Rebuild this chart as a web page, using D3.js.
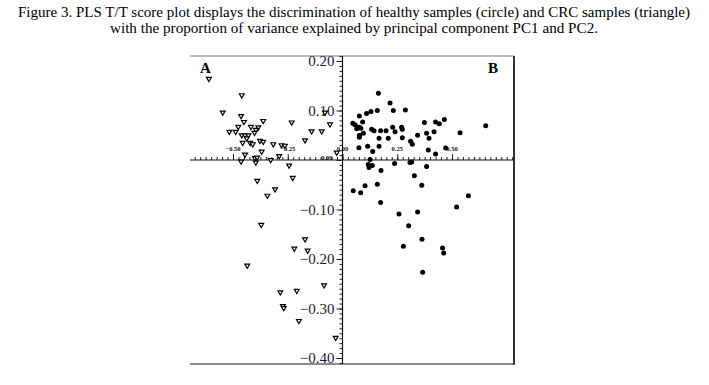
<!DOCTYPE html>
<html>
<head>
<meta charset="utf-8">
<script src="https://cdn.jsdelivr.net/npm/d3@7"></script>
<style>
  body { margin: 0; background: #fff; }
  svg { display: block; }
  .title { font-family: "Liberation Serif", "Times New Roman", serif; font-size: 15px; fill: #000; }
  .ylab { font-family: "Liberation Serif", serif; font-size: 15px; fill: #1c1c30; }
  .xlab { font-family: "Liberation Serif", serif; font-size: 6.5px; font-weight: bold; fill: #111; }
  .panel { font-family: "Liberation Serif", serif; font-size: 15px; font-weight: bold; fill: #000; }
</style>
</head>
<body>
<div id="chart"></div>
<script>
// Title lines
const titleLines = [
  "Figure 3. PLS T/T score plot displays the discrimination of healthy samples (circle) and CRC samples (triangle)",
  "with the proportion of variance explained by principal component PC1 and PC2."
];

// Tick labels
const xTickValues = [-0.5, -0.25, 0, 0.25, 0.5];
const yTickValues = [0.2, 0.1, -0.1, -0.2, -0.3, -0.4];

// CRC samples (triangles): [t1, t2]
const crcScores = [
  [-0.61, 0.164], [-0.46, 0.131], [-0.547, 0.096], [-0.463, 0.089], [-0.45, 0.077],
  [-0.362, 0.079], [-0.232, 0.076], [-0.057, 0.072], [-0.08, 0.096], [-0.476, 0.067],
  [-0.418, 0.067], [-0.384, 0.066], [-0.395, 0.061], [-0.517, 0.057], [-0.488, 0.057],
  [-0.402, 0.055], [-0.141, 0.058], [-0.095, 0.058], [-0.46, 0.05], [-0.445, 0.05],
  [-0.43, 0.05], [-0.437, 0.044], [-0.456, 0.035], [-0.422, 0.035], [-0.41, 0.032],
  [-0.377, 0.039], [-0.362, 0.037], [-0.316, 0.032], [-0.278, 0.03], [-0.263, 0.029],
  [-0.171, 0.04], [-0.369, 0.017], [-0.445, 0.011], [-0.4, 0.004], [-0.39, 0.005],
  [-0.289, 0.008], [-0.328, 0.0], [-0.026, 0.015], [-0.463, -0.003], [-0.396, -0.005],
  [-0.244, -0.011], [-0.389, -0.042], [-0.227, -0.036], [-0.308, -0.059], [-0.343, -0.072],
  [-0.371, -0.131], [-0.171, -0.16], [-0.22, -0.179], [-0.159, -0.183], [-0.435, -0.213],
  [-0.084, -0.253], [-0.284, -0.267], [-0.209, -0.264], [-0.272, -0.295], [-0.268, -0.299],
  [-0.199, -0.325], [-0.031, -0.359]
];

// Healthy samples (circles): [t1, t2]
const healthyScores = [
  [0.164, 0.135], [0.217, 0.115], [0.232, 0.1], [0.287, 0.101], [0.159, 0.1],
  [0.13, 0.098], [0.11, 0.094], [0.077, 0.089], [0.092, 0.077], [0.047, 0.074],
  [0.057, 0.071], [0.07, 0.066], [0.077, 0.066], [0.065, 0.063], [0.084, 0.064],
  [0.095, 0.054], [0.077, 0.05], [0.077, 0.046], [0.133, 0.062], [0.144, 0.059],
  [0.174, 0.059], [0.199, 0.059], [0.229, 0.066], [0.24, 0.057], [0.27, 0.066],
  [0.273, 0.062], [0.374, 0.076], [0.425, 0.077], [0.442, 0.073], [0.465, 0.082],
  [0.343, 0.05], [0.384, 0.054], [0.418, 0.057], [0.395, 0.044], [0.537, 0.055],
  [0.654, 0.069], [0.167, 0.044], [0.209, 0.044], [0.273, 0.045], [0.311, 0.038],
  [0.319, 0.032], [0.115, 0.028], [0.167, 0.028], [0.075, 0.025], [0.138, 0.017],
  [0.392, 0.02], [0.425, 0.012], [0.471, 0.024], [0.126, 0.001], [0.118, -0.009],
  [0.136, -0.011], [0.121, -0.015], [0.238, -0.007], [0.308, -0.005], [0.316, -0.004],
  [0.384, -0.013], [0.176, -0.021], [0.328, -0.032], [0.159, -0.049], [0.103, -0.052],
  [0.362, -0.051], [0.049, -0.062], [0.083, -0.066], [0.575, -0.072], [0.174, -0.086],
  [0.521, -0.095], [0.258, -0.109], [0.343, -0.105], [0.302, -0.133], [0.363, -0.16],
  [0.278, -0.174], [0.457, -0.178], [0.462, -0.188], [0.366, -0.227]
];

const width = 709, height = 385;
const box = { left: 190, right: 514, top: 56, bottom: 364 };

const svg = d3.select("#chart").append("svg")
  .attr("width", width).attr("height", height);

// Title
svg.selectAll("text.title")
  .data(titleLines)
  .join("text")
  .attr("class", "title")
  .attr("x", 354)
  .attr("y", (d, i) => 17 + i * 15.5)
  .attr("text-anchor", "middle")
  .attr("textLength", (d, i) => i === 0 ? 672 : 488)
  .attr("lengthAdjust", "spacingAndGlyphs")
  .text(d => d);

// Scales (calibrated from the tick labels)
const x = d3.scaleLinear().domain([-0.5, 0.5]).range([233, 452]);
const y = d3.scaleLinear().domain([0.2, -0.4]).range([61, 358]);

// Frame: top thin grey, bottom grey, right dark
svg.append("line")
  .attr("x1", box.left).attr("x2", box.right)
  .attr("y1", box.top).attr("y2", box.top)
  .attr("stroke", "#777").attr("stroke-width", 1);
svg.append("line")
  .attr("x1", box.left).attr("x2", box.right)
  .attr("y1", box.bottom).attr("y2", box.bottom)
  .attr("stroke", "#666").attr("stroke-width", 1.5);
svg.append("line")
  .attr("x1", box.right).attr("x2", box.right)
  .attr("y1", box.top).attr("y2", box.bottom + 0.75)
  .attr("stroke", "#333").attr("stroke-width", 2);

// Minor & major ticks on x axis (drawn above the axis line)
const xMinor = d3.range(-0.675, 0.776, 0.025).map(v => +v.toFixed(3));
const xAxisG = svg.append("g").attr("transform", `translate(0,${y(0)})`);
xAxisG.append("g")
  .call(d3.axisTop(x).tickValues(xMinor).tickSize(3).tickFormat(""))
  .call(g => g.select(".domain").remove());
xAxisG.append("g")
  .call(d3.axisTop(x).tickValues(xTickValues).tickSize(6).tickFormat(""))
  .call(g => g.select(".domain").remove());
xAxisG.selectAll(".tick line").attr("stroke", "#222");
xAxisG.append("line")
  .attr("x1", box.left).attr("x2", box.right)
  .attr("stroke", "#111").attr("stroke-width", 1.2);

// x tick labels (tiny, bold)
svg.selectAll("text.xlab")
  .data(xTickValues)
  .join("text")
  .attr("class", "xlab")
  .attr("x", d => x(d))
  .attr("y", y(0) - 9)
  .attr("text-anchor", "middle")
  .text(d => d3.format(".2f")(d));

// y axis: ticks on the left side
const yMinor = d3.range(-0.41, 0.215, 0.01).map(v => +v.toFixed(2));
const yAxisG = svg.append("g").attr("transform", `translate(${x(0)},0)`);
yAxisG.append("g")
  .call(d3.axisLeft(y).tickValues(yMinor).tickSize(3).tickFormat(""))
  .call(g => g.select(".domain").remove());
yAxisG.append("g")
  .call(d3.axisLeft(y).tickValues(yTickValues.concat([0])).tickSize(6).tickFormat(""))
  .call(g => g.select(".domain").remove());
yAxisG.selectAll(".tick line").attr("stroke", "#222");
yAxisG.append("line")
  .attr("y1", box.top).attr("y2", box.bottom)
  .attr("stroke", "#111").attr("stroke-width", 1.2);

// y tick labels
svg.selectAll("text.ylab")
  .data(yTickValues)
  .join("text")
  .attr("class", "ylab")
  .attr("x", x(0) - 8)
  .attr("y", d => y(d))
  .attr("dy", "0.35em")
  .attr("text-anchor", "end")
  .text(d => d3.format(".2f")(d));

// small "0.00" at the origin on the y axis
svg.append("text")
  .attr("class", "xlab")
  .attr("x", x(0) - 10)
  .attr("y", y(0) - 0.5)
  .attr("text-anchor", "end")
  .text("0.00");

// Panel letters
svg.append("text").attr("class", "panel").attr("x", 200).attr("y", 73).text("A");
svg.append("text").attr("class", "panel").attr("x", 488).attr("y", 73).text("B");

// CRC: inverted open triangles
const tri = d3.symbol().type(d3.symbolTriangle).size(10);
svg.append("g")
  .selectAll("path")
  .data(crcScores)
  .join("path")
  .attr("d", tri)
  .attr("transform", d => `translate(${x(d[0])},${y(d[1])}) rotate(180)`)
  .attr("fill", "#fff")
  .attr("stroke", "#000")
  .attr("stroke-width", 1.2);

// Healthy: filled dots
svg.append("g")
  .selectAll("circle")
  .data(healthyScores)
  .join("circle")
  .attr("cx", d => x(d[0]))
  .attr("cy", d => y(d[1]))
  .attr("r", 2.5)
  .attr("fill", "#000");
</script>
</body>
</html>
